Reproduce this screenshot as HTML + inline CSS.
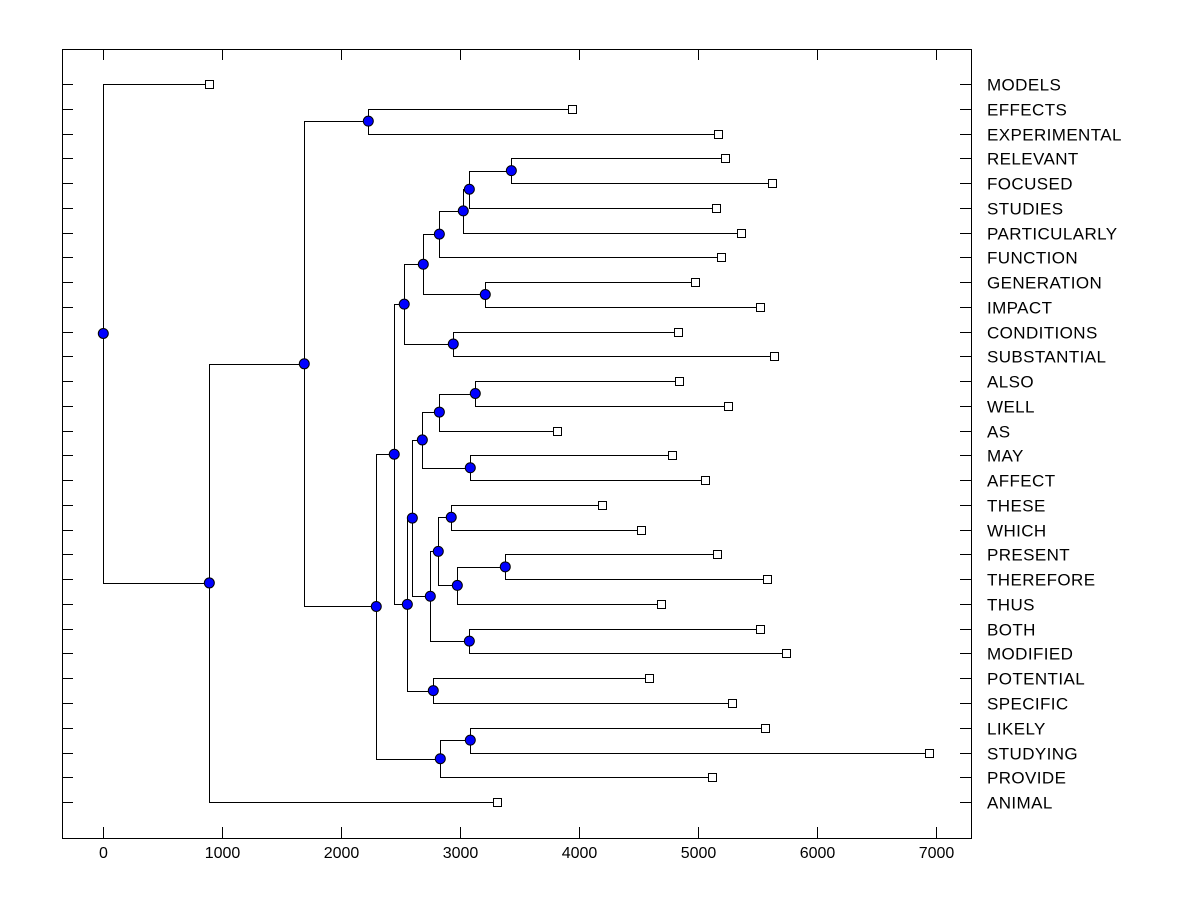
<!DOCTYPE html>
<html><head><meta charset="utf-8"><style>
html,body{margin:0;padding:0;background:#fff;width:1200px;height:900px;overflow:hidden}
svg text{font-family:"Liberation Sans",Arial,sans-serif;fill:#000}
</style></head><body>
<svg id="chart" width="1200" height="900" xmlns="http://www.w3.org/2000/svg">
<rect x="62.5" y="49.5" width="909" height="789" fill="none" stroke="#000" stroke-width="1"/>
<g id="ticks"></g><g id="links"></g><g id="marks"></g><g id="labels"></g>
</svg>
<script>
const leafNames = ["MODELS","EFFECTS","EXPERIMENTAL","RELEVANT","FOCUSED","STUDIES","PARTICULARLY","FUNCTION","GENERATION","IMPACT","CONDITIONS","SUBSTANTIAL","ALSO","WELL","AS","MAY","AFFECT","THESE","WHICH","PRESENT","THEREFORE","THUS","BOTH","MODIFIED","POTENTIAL","SPECIFIC","LIKELY","STUDYING","PROVIDE","ANIMAL"];
const leafValues = [888,3941,5168,5227,5622,5151,5361,5193,4975,5521,4832,5639,4840,5252,3815,4782,5059,4193,4521,5160,5580,4689,5521,5739,4588,5286,5563,6941,5118,3311];
// internal nodes: ids 30.. ; children refer to leaf index (<30) or node id (30+index)
const nodeHeights = [0,891,1689,2227,2294,2445,2529,2689,2824,3025,3076,3429,3210,2941,2555,2597,2681,2824,3126,3084,2748,2815,2924,2975,3378,3076,2773,2832,3084];
const nodeLeft  = [0, 32,33,1, 35,36,37,38,39,40,41,3, 8, 10,45,46,47,48,12,15,51,52,17,54,19,22,24,58,26];
const nodeRight = [31,29,34,2, 57,44,43,42,7, 6, 5, 4, 9, 11,56,50,49,14,13,16,55,53,18,21,20,23,25,28,27];
const xTicks = [0,1000,2000,3000,4000,5000,6000,7000];

const X0=103.3, PX=0.119, Y0=84, DY=24.76;
const sx = v => X0 + v*PX;
const ys = i => Y0 + i*DY;
const NS="http://www.w3.org/2000/svg";
function mk(tag, parent, attrs){const e=document.createElementNS(NS,tag);for(const k in attrs)e.setAttribute(k,attrs[k]);document.getElementById(parent).appendChild(e);return e;}
function posY(id){ if(id<30) return ys(id); const n=id-30; return (posY(nodeLeft[n])+posY(nodeRight[n]))/2; }
function posX(id){ return id<30 ? sx(leafValues[id]) : sx(nodeHeights[id-30]); }

leafNames.forEach((nm,i)=>{
  const y=Math.round(ys(i))+0.5;
  let t=mk('line','ticks',{x1:62,y1:y,x2:73,y2:y,stroke:'#000'});
  
  
  t=mk('line','ticks',{x1:960,y1:y,x2:971,y2:y,stroke:'#000'});
  
  
  const lb=mk('text','labels',{x:987,y:y+6,'font-size':17,'letter-spacing':0.4});
  lb.textContent=nm;
  
  
});
xTicks.forEach(v=>{
  const x=Math.round(sx(v))+0.5;
  let t=mk('line','ticks',{x1:x,y1:838,x2:x,y2:827,stroke:'#000'});
  
  
  t=mk('line','ticks',{x1:x,y1:49,x2:x,y2:60,stroke:'#000'});
  
  
  const lb=mk('text','labels',{x:x,y:858,'font-size':16,'text-anchor':'middle'});
  lb.textContent=v;
  
  
});
nodeHeights.forEach((h,n)=>{
  const x=Math.round(sx(h))+0.5;
  const a=nodeLeft[n], b=nodeRight[n];
  const ya=Math.round(posY(a))+0.5, yb=Math.round(posY(b))+0.5;
  const p=mk('path','links',{d:`M${posX(a)},${ya}H${x}V${yb}H${posX(b)}`,fill:'none',stroke:'#000','stroke-width':1});
  
  
});
nodeHeights.forEach((h,n)=>{
  const c=mk('circle','marks',{cx:sx(h),cy:posY(n+30),r:5,fill:'#0000ff',stroke:'#000','stroke-width':1});
  
  
});
leafValues.forEach((v,i)=>{
  const r=mk('rect','marks',{x:Math.round(sx(v))-3.5,y:Math.round(ys(i))-3.5,width:8,height:8,fill:'#fff',stroke:'#000'});
  
  
});
</script>
</body></html>
